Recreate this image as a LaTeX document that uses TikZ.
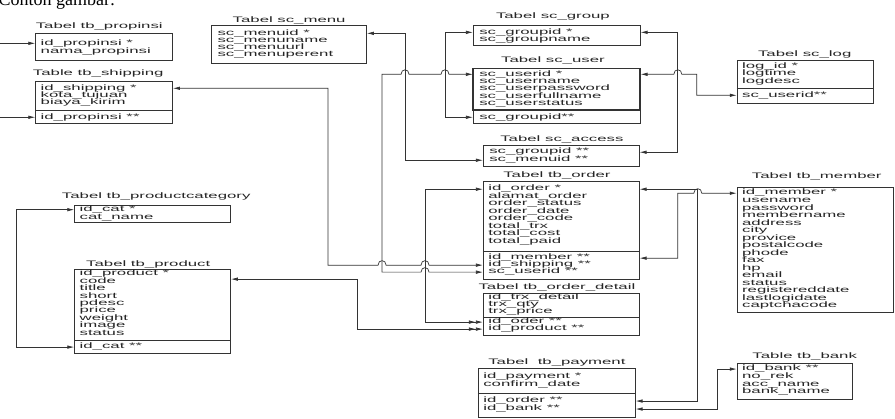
\documentclass[tikz,border=0pt]{standalone}
\usepackage{fontspec}
\newfontfamily\erdfont[FakeStretch=2.1]{Liberation Sans}
\newfontfamily\capfont{Liberation Serif}
\usetikzlibrary{arrows.meta,calc}

% line hops, to the right and to the left
\newcommand{\hopR}[2]{-- (#1-4,#2) .. controls (#1-4,#2-6) and (#1+4,#2-6) .. (#1+4,#2)}
\newcommand{\hopL}[2]{-- (#1+4,#2) .. controls (#1+4,#2-6) and (#1-4,#2-6) .. (#1-4,#2)}

\begin{document}
\begin{tikzpicture}[x=1pt,y=-1pt,>={Latex[length=7pt,width=3.5pt]},
  box/.style={draw=black!80, line width=0.7pt, anchor=north west, inner sep=0pt},
  fld/.style={font=\erdfont\fontsize{8}{8}\selectfont, text=black!85, anchor=west, inner sep=0pt, text height=5pt, text depth=1.5pt},
  ttl/.style={font=\erdfont\fontsize{8}{8}\selectfont, text=black!85, inner sep=0pt},
  every path/.style={draw=black!80, line width=0.7pt}]
\useasboundingbox (0,0) rectangle (895,418);
\fill[white] (0,0) rectangle (895,418);
\node[font=\capfont\fontsize{18}{18}\selectfont, anchor=base west, inner sep=0pt] (cap) at (-2,5.5) {Contoh gambar:};
% tb_propinsi
\node[ttl] (tpropinsi) at (99,26) {Tabel tb\_propinsi};
\node[box, minimum width=137pt, minimum height=27pt] (propinsi) at (35,33) {};
\foreach \lab [count=\i] in {id\_propinsi *, nama\_propinsi}
  \node[fld] (prop\i) at (40,{43+(\i-1)*8}) {\lab};
% tb_shipping
\node[ttl] (tshipping) at (98,73) {Table tb\_shipping};
\node[box, minimum width=137pt, minimum height=42pt] (shipping) at (35,81) {};
\draw (35,110) -- (172,110);
\foreach \lab [count=\i] in {id\_shipping *, kota\_tujuan, biaya\_kirim}
  \node[fld] (ship\i) at (40,{88+(\i-1)*7}) {\lab};
\node[fld] (ship4) at (40,117) {id\_propinsi **};
% sc_menu
\node[ttl] (tmenu) at (289,20) {Tabel sc\_menu};
\node[box, minimum width=155pt, minimum height=38pt] (menu) at (211,25) {};
\foreach \lab [count=\i] in {sc\_menuid *, sc\_menuname, sc\_menuurl, sc\_menuperent}
  \node[fld] (menu\i) at (217,{33+(\i-1)*7.3}) {\lab};
% sc_group
\node[ttl] (tgroup) at (553,16) {Tabel sc\_group};
\node[box, minimum width=167pt, minimum height=20pt] (group) at (473,25) {};
\foreach \lab [count=\i] in {sc\_groupid *, sc\_groupname}
  \node[fld] (group\i) at (479,{32+(\i-1)*7}) {\lab};
% sc_user
\node[ttl] (tuser) at (553,60) {Tabel sc\_user};
\node[box, minimum width=167pt, minimum height=55pt] (user) at (473,68) {};
\draw[line width=1.6pt] (473,68) rectangle (640,110);
\foreach \lab [count=\i] in {sc\_userid *, sc\_username, sc\_userpassword, sc\_userfullname, sc\_userstatus}
  \node[fld] (user\i) at (479,{74+(\i-1)*7.4}) {\lab};
\node[fld] (user6) at (479,117) {sc\_groupid**};
% sc_access
\node[ttl] (taccess) at (562,139) {Tabel sc\_access};
\node[box, minimum width=156pt, minimum height=21pt] (access) at (483,145) {};
\foreach \lab [count=\i] in {sc\_groupid **, sc\_menuid **}
  \node[fld] (access\i) at (489,{152+(\i-1)*8}) {\lab};
% sc_log
\node[ttl] (tlog) at (805,54) {Tabel sc\_log};
\node[box, minimum width=136pt, minimum height=43pt] (log) at (737,60) {};
\draw (737,88) -- (873,88);
\foreach \lab [count=\i] in {log\_id *, logtime, logdesc}
  \node[fld] (log\i) at (742,{66+(\i-1)*7.8}) {\lab};
\node[fld] (log4) at (742,95) {sc\_userid**};
% tb_order
\node[ttl] (torder) at (557,175) {Tabel tb\_order};
\node[box, minimum width=156pt, minimum height=98pt] (order) at (483,181) {};
\draw (483,251) -- (639,251);
\foreach \lab [count=\i] in {id\_order *, alamat\_order, order\_status, order\_date, order\_code, total\_trx, total\_cost, total\_paid}
  \node[fld] (order\i) at (488,{189+(\i-1)*7.5}) {\lab};
\foreach \lab [count=\i from 9] in {id\_member **, id\_shipping **, sc\_userid **}
  \node[fld] (order\i) at (488,{258+(\i-9)*7}) {\lab};
% tb_order_detail
\node[ttl] (tdetail) at (557,287) {Tabel tb\_order\_detail};
\node[box, minimum width=156pt, minimum height=42pt] (detail) at (483,293) {};
\draw (483,317) -- (639,317);
\foreach \lab [count=\i] in {id\_trx\_detail, trx\_qty, trx\_price}
  \node[fld] (detail\i) at (488,{298+(\i-1)*7}) {\lab};
\foreach \lab [count=\i from 4] in {id\_oder **, id\_product **}
  \node[fld] (detail\i) at (488,{322+(\i-4)*7}) {\lab};
% tb_payment
\node[ttl] (tpayment) at (557,362) {Tabel \ tb\_payment};
\node[box, minimum width=157pt, minimum height=49pt] (payment) at (478,368) {};
\draw (478,393) -- (635,393);
\foreach \lab [count=\i] in {id\_payment *, confirm\_date}
  \node[fld] (pay\i) at (483,{377+(\i-1)*8}) {\lab};
\foreach \lab [count=\i from 3] in {id\_order **, id\_bank **}
  \node[fld] (pay\i) at (483,{401+(\i-3)*8}) {\lab};
% tb_member
\node[ttl] (tmember) at (817,176) {Tabel tb\_member};
\node[box, minimum width=156pt, minimum height=125pt] (member) at (737,187) {};
\foreach \lab [count=\i] in {id\_member *, usename, password, membername, address, city, provice, postalcode, phode, fax, hp, email, status, registereddate, lastlogidate, captchacode}
  \node[fld] (member\i) at (742,{193+(\i-1)*7.53}) {\lab};
% tb_bank
\node[ttl] (tbank) at (805,356) {Table tb\_bank};
\node[box, minimum width=115pt, minimum height=36pt] (bank) at (737,363) {};
\foreach \lab [count=\i] in {id\_bank **, no\_rek, acc\_name, bank\_name}
  \node[fld] (bank\i) at (742,{369+(\i-1)*7.7}) {\lab};
% tb_productcategory
\node[ttl] (tcategory) at (156,196) {Tabel tb\_productcategory};
\node[box, minimum width=156pt, minimum height=17pt] (category) at (74,205) {};
\foreach \lab [count=\i] in {id\_cat *, cat\_name}
  \node[fld] (cat\i) at (79,{209.5+(\i-1)*8}) {\lab};
% tb_product
\node[ttl] (tproduct) at (148,264) {Tabel tb\_product};
\node[box, minimum width=156pt, minimum height=84pt] (product) at (74,269) {};
\draw (74,340) -- (230,340);
\foreach \lab [count=\i] in {id\_product *, code, title, short, pdesc, price, weight, image, status}
  \node[fld] (prod\i) at (79,{274+(\i-1)*7.4}) {\lab};
\node[fld] (prod10) at (79,347) {id\_cat **};
% relations
\coordinate (inprop) at (0,43);
\coordinate (inship) at (0,117);
\draw[->] (inprop) -- (propinsi.west |- prop1);
\draw[->] (inship) -- (shipping.west |- ship4);
\draw[<->] (shipping.east |- ship1) -- (328,88) -- (328,265) \hopR{382}{265} \hopR{425}{265} -- (order.west |- order10);
\draw[<->] (user.west |- user1) \hopL{445}{74} \hopL{405}{74} -- (382,74) -- (382,272) \hopR{425}{272} -- (order.west |- order11);
\draw[<->] (menu.east |- menu1) -- (405,33) -- (405,160) -- (access.west |- access2);
\draw[<->] (group.west |- group1) -- (445,32) -- (445,117) -- (user.west |- user6);
\draw[<->] (group.east |- group1) -- (678,32) -- (678,152) -- (access.east |- access1);
\draw[<->] (user.east |- user1) \hopR{678}{74} -- (697,74) -- (697,95) -- (log.west |- log4);
\draw[<->>] (order.west |- order1) -- (425,189) -- (425,322) -- (detail.west |- detail4);
\draw[<->>] ($(product.north east)+(0,10)$) -- (357,279) -- (357,329) -- (detail.west |- detail5);
\draw[<->] (category.west |- cat1) -- (16,209.5) -- (16,347) -- (product.west |- prod10);
\draw[<->] (member.west |- member1) \hopL{698}{193} -- (678,193) -- (678,258) -- (order.east |- order9);
\draw[<->] (order.east |- order1) -- (698,189) -- (698,401) -- (payment.east |- pay3);
\draw[<->] (payment.east |- pay4) -- (718,409) -- (718,369) -- (bank.west |- bank1);
\end{tikzpicture}
\end{document}
